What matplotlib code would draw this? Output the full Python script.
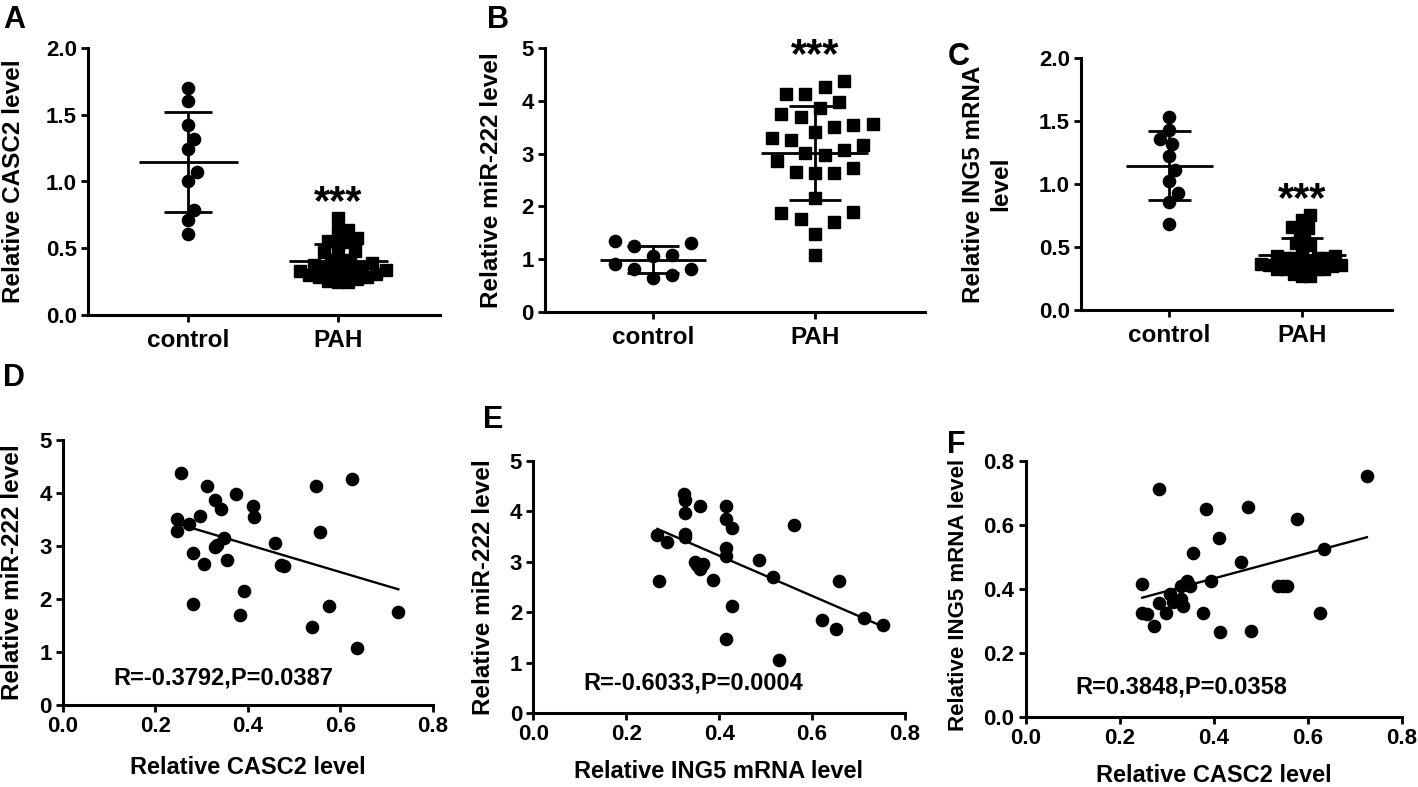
import numpy as np
import matplotlib
matplotlib.use("Agg")
import matplotlib.pyplot as plt

plt.rcParams['font.family'] = ['Liberation Sans', 'DejaVu Sans']
plt.rcParams['font.weight'] = 'bold'
plt.rcParams['axes.labelweight'] = 'bold'

W, H = 1418, 787

# ---- data ----
groups = ["control", "PAH"]

casc2_ctrl = [1.70, 1.60, 1.42, 1.32, 1.24, 1.07, 1.005, 0.79, 0.71, 0.61]
mir222_ctrl = [1.30, 1.08, 0.905, 0.81, 1.06, 0.635, 1.25, 0.70, 1.35, 0.81]
ing5_ctrl = [1.53, 1.43, 1.32, 1.36, 1.225, 1.11, 1.02, 0.926, 0.86, 0.68]

# D: CASC2 vs miR-222 in PAH samples
d_casc2 = [0.256, 0.247, 0.247, 0.273, 0.297, 0.281, 0.305, 0.282, 0.311, 0.329,
           0.341, 0.328, 0.334, 0.349, 0.356, 0.375, 0.392, 0.384, 0.411, 0.413,
           0.459, 0.472, 0.479, 0.547, 0.556, 0.539, 0.575, 0.626, 0.636, 0.725]
d_mir222 = [4.37, 3.51, 3.29, 3.41, 3.57, 2.86, 2.66, 1.90, 4.13, 3.87,
            3.69, 2.975, 3.01, 3.16, 2.73, 3.99, 2.15, 1.70, 3.76, 3.55,
            3.06, 2.64, 2.63, 4.13, 3.26, 1.48, 1.87, 4.26, 1.075, 1.76]

# E: ING5 vs miR-222
e_ing5 = [0.267, 0.270, 0.287, 0.325, 0.327, 0.327, 0.327, 0.327, 0.348, 0.359,
          0.366, 0.359, 0.386, 0.414, 0.414, 0.427, 0.415, 0.414, 0.427, 0.414,
          0.485, 0.515, 0.528, 0.562, 0.621, 0.652, 0.658, 0.712, 0.752, 0.352]
e_mir222 = [3.52, 2.61, 3.39, 4.34, 4.22, 3.97, 3.55, 3.48, 2.99, 2.86,
            2.96, 4.10, 2.64, 4.10, 3.84, 3.67, 3.27, 3.12, 2.13, 1.46,
            3.04, 2.69, 1.06, 3.72, 1.85, 1.67, 2.61, 1.88, 1.74, 2.93]

# F: CASC2 vs ING5
f_casc2 = [0.248, 0.248, 0.259, 0.274, 0.283, 0.283, 0.299, 0.306, 0.313, 0.330,
           0.334, 0.330, 0.344, 0.350, 0.357, 0.377, 0.384, 0.394, 0.412, 0.413,
           0.458, 0.473, 0.479, 0.536, 0.547, 0.557, 0.577, 0.626, 0.635, 0.726]
f_ing5 = [0.415, 0.324, 0.322, 0.285, 0.711, 0.357, 0.324, 0.383, 0.358, 0.368,
          0.347, 0.410, 0.426, 0.410, 0.512, 0.324, 0.650, 0.424, 0.560, 0.265,
          0.483, 0.657, 0.269, 0.410, 0.410, 0.410, 0.619, 0.324, 0.525, 0.751]

notes = ["R=-0.3792,P=0.0387", "R=-0.6033,P=0.0004", "R=0.3848,P=0.0358"]


def px_axes(fig, left, top, right, bottom):
    return fig.add_axes([left / W, 1 - bottom / H, (right - left) / W, (bottom - top) / H])


def style(ax):
    for s in ("top", "right"):
        ax.spines[s].set_visible(False)
    for s in ("left", "bottom"):
        ax.spines[s].set_linewidth(2.2)
    ax.tick_params(direction="out", length=5, width=2, labelsize=16, pad=3)


def label_at(ax, which, px, py):
    # put axis label centre at a pixel position of the figure
    bb = ax.get_position()
    xa = (px / W - bb.x0) / bb.width
    ya = ((1 - py / H) - bb.y0) / bb.height
    lab = ax.yaxis if which == "y" else ax.xaxis
    lab.set_label_coords(xa, ya)
    lab.label.set_va("center")


def swarm_offsets(ax, vals, center, size_px):
    vals = np.asarray(vals, float)
    ys = ax.transData.transform(np.column_stack([np.full(vals.size, center), vals]))[:, 1]
    ppu = ax.transData.transform([(1, 0)])[0, 0] - ax.transData.transform([(0, 0)])[0, 0]
    step = size_px / 4.0
    cand = [0.0]
    for j in range(1, 300):
        cand += [j * step, -j * step]
    placed = []
    offs = np.zeros(vals.size)
    for i in np.argsort(vals):
        for c in cand:
            if all((c - qx) ** 2 + (ys[i] - qy) ** 2 >= size_px ** 2 for qx, qy in placed):
                break
        placed.append((c, ys[i]))
        offs[i] = c
    return offs / ppu


def dot_panel(ax, ctrl, pah, ylim, yticks, ylabel, star_y, gaps):
    style(ax)
    ax.set_xlim(-0.667, 1.68)
    ax.set_ylim(*ylim)
    ax.set_yticks(yticks)
    ax.set_xticks([0, 1])
    ax.set_xticklabels(groups, fontsize=17.5)
    ax.tick_params(axis="x", pad=5)
    for i, (vals, mk, g) in enumerate(zip([ctrl, pah], ["o", "s"], gaps)):
        offs = swarm_offsets(ax, vals, i, 12 * g)
        ax.plot(i + offs, vals, mk, color="black", ms=8.8, ls="none", zorder=2, clip_on=False)
        m, s = np.mean(vals), np.std(vals, ddof=1)
        ax.hlines(m, i - 0.33, i + 0.33, color="black", lw=2, zorder=3)
        ax.vlines(i, m - s, m + s, color="black", lw=2, zorder=3)
        ax.hlines([m - s, m + s], i - 0.16, i + 0.16, color="black", lw=2, zorder=3)
    ax.text(1, star_y, "***", ha="center", va="center", fontsize=30, clip_on=False)
    ax.set_ylabel(ylabel, fontsize=17.5)


def scatter_panel(ax, x, y, ylim, yticks, xlabel, ylabel, note, note_xy, ysize=17.5):
    style(ax)
    x = np.asarray(x)
    y = np.asarray(y)
    ax.plot(x, y, "o", color="black", ms=8.8, ls="none", zorder=2)
    k, b = np.polyfit(x, y, 1)
    xs = np.array([x.min(), x.max()])
    ax.plot(xs, k * xs + b, color="black", lw=1.7, zorder=3)
    ax.set_xlim(0, 0.8)
    ax.set_xticks(np.arange(0, 0.81, 0.2))
    ax.set_ylim(*ylim)
    ax.set_yticks(yticks)
    ax.set_xlabel(xlabel, fontsize=17)
    ax.set_ylabel(ylabel, fontsize=ysize)
    ax.text(note_xy[0], note_xy[1], note, ha="left", va="center", fontsize=17)


fig = plt.figure(figsize=(W / 100, H / 100), dpi=100)

axA = px_axes(fig, 88, 48, 440, 315)
axB = px_axes(fig, 545, 48.3, 925, 311.7)
axC = px_axes(fig, 1081, 58, 1392, 310)
axD = px_axes(fig, 62.7, 440, 433, 705)
axE = px_axes(fig, 533.3, 460.7, 905, 713)
axF = px_axes(fig, 1025.7, 460.7, 1401.7, 717)

dot_panel(axA, casc2_ctrl, d_casc2, (0, 2.0), np.arange(0, 2.01, 0.5),
          "Relative CASC2 level", 0.84, (1.0, 0.8))
dot_panel(axB, mir222_ctrl, d_mir222, (0, 5), range(0, 6),
          "Relative miR-222 level", 4.86, (1.6, 1.6))
dot_panel(axC, ing5_ctrl, e_ing5, (0, 2.0), np.arange(0, 2.01, 0.5),
          "Relative ING5 mRNA\nlevel", 0.875, (1.0, 0.68))

scatter_panel(axD, d_casc2, d_mir222, (0, 5), range(0, 6), "Relative CASC2 level",
              "Relative miR-222 level", notes[0], (0.109, 0.5))
scatter_panel(axE, e_ing5, e_mir222, (0, 5), range(0, 6), "Relative ING5 mRNA level",
              "Relative miR-222 level", notes[1], (0.107, 0.59))
scatter_panel(axF, f_casc2, f_ing5, (0, 0.8), np.arange(0, 0.81, 0.2), "Relative CASC2 level",
              "Relative ING5 mRNA level", notes[2], (0.105, 0.095), ysize=16)

label_at(axA, "y", 14, 181)
label_at(axB, "y", 492, 180)
label_at(axC, "y", 987, 184)
label_at(axD, "y", 13, 572)
label_at(axE, "y", 483, 587)
label_at(axF, "y", 959, 595)
label_at(axD, "x", 248, 767)
label_at(axE, "x", 719, 772)
label_at(axF, "x", 1214, 775)

for letter, (lx, ly) in zip("ABCDEF", [(3, 5), (487, 5), (948, 42), (3, 363), (483, 405), (947, 430)]):
    fig.text(lx / W, 1 - ly / H, letter, ha="left", va="top", fontsize=22)

fig.savefig("out.png", dpi=100)
